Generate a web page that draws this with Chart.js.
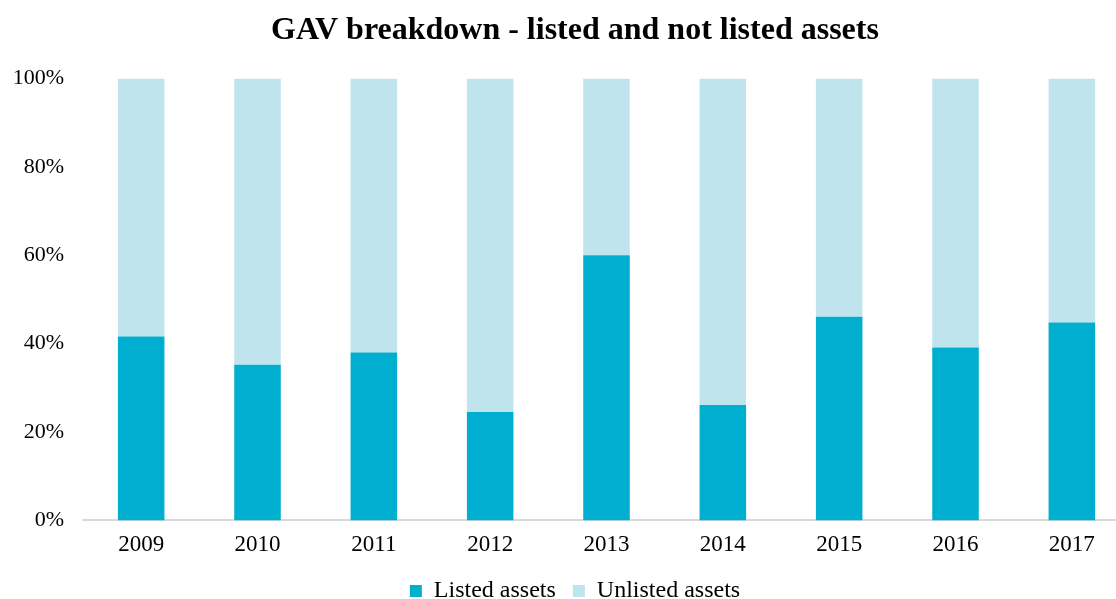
<!DOCTYPE html>
<html>
<head>
<meta charset="utf-8">
<script src="https://cdn.jsdelivr.net/npm/chart.js@4/dist/chart.umd.min.js"></script>
<style>
  html, body { margin: 0; padding: 0; background: #fff; overflow: hidden; }
  #wrap { width: 1150px; height: 599px; }
</style>
</head>
<body>
<div id="wrap"><canvas id="myChart" width="1150" height="599"></canvas></div>
<script>
const years = ['2009', '2010', '2011', '2012', '2013', '2014', '2015', '2016', '2017'];
const listed = [41.6, 35.2, 38.0, 24.5, 60.0, 26.1, 46.1, 39.1, 44.8];
const unlisted = [58.4, 64.8, 62.0, 75.5, 40.0, 73.9, 53.9, 60.9, 55.2];
const yTicks = [0, 20, 40, 60, 80, 100];

const serif = "'Liberation Serif', 'Times New Roman', serif";

// nudge title + legend a bit right so they sit where the original had them
const shiftBlocks = {
  id: 'shiftBlocks',
  afterLayout(chart) {
    [chart.titleBlock, chart.legend].forEach(b => {
      if (b) { b.left += 6; b.right += 6; }
    });
  }
};

const data = {
  labels: years,
  datasets: [{
    label: 'Listed assets',
    data: listed,
    backgroundColor: 'rgb(0, 175, 208)',
    barPercentage: 0.4,
    categoryPercentage: 1
  }, {
    label: 'Unlisted assets',
    data: unlisted,
    backgroundColor: 'rgb(192, 228, 237)',
    barPercentage: 0.4,
    categoryPercentage: 1
  }]
};

const config = {
  type: 'bar',
  data: data,
  plugins: [shiftBlocks],
  options: {
    responsive: false,
    animation: false,
    layout: { padding: { left: 8, right: 20, top: 6, bottom: -14 } },
    plugins: {
      title: {
        display: true,
        text: 'GAV breakdown - listed and not listed assets',
        color: '#000',
        font: { family: serif, size: 32, weight: 'bold' },
        padding: { top: 6, bottom: 28 }
      },
      legend: {
        position: 'bottom',
        labels: {
          color: '#000',
          font: { family: serif, size: 24 },
          boxWidth: 12,
          boxHeight: 12,
          padding: 17
        }
      },
      tooltip: { enabled: false }
    },
    scales: {
      x: {
        stacked: true,
        grid: { display: false },
        border: { color: '#d9d9d9', width: 2 },
        ticks: { color: '#000', font: { family: serif, size: 23 }, padding: 3 }
      },
      y: {
        stacked: true,
        min: 0,
        max: 100,
        afterBuildTicks: axis => { axis.ticks = yTicks.map(v => ({ value: v })); },
        afterFit: axis => { axis.width = 75; },
        grid: { display: false },
        border: { display: false },
        ticks: {
          color: '#000',
          font: { family: serif, size: 22 },
          padding: 11,
          callback: v => v + '%'
        }
      }
    }
  }
};

const chart = () => {
  const elem = new Chart(document.getElementById('myChart'), config);
  return elem;
};

chart();
</script>
</body>
</html>
